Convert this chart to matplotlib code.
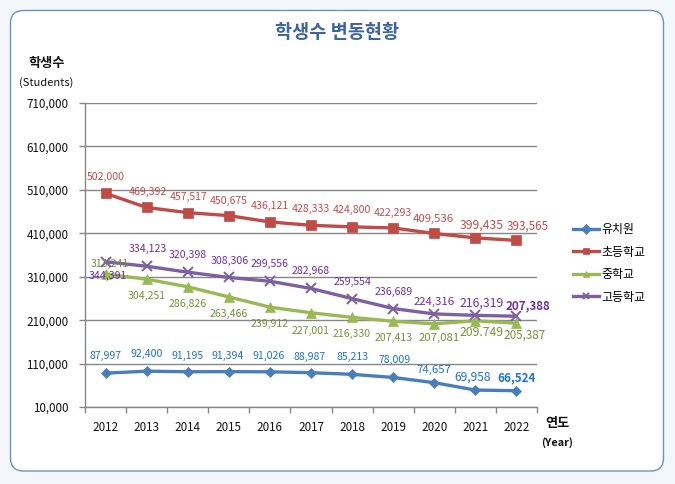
import matplotlib
matplotlib.use('Agg')
import matplotlib.pyplot as plt
from matplotlib.patches import FancyBboxPatch
from matplotlib.transforms import IdentityTransform
from matplotlib.ticker import FixedLocator, FuncFormatter

plt.rcParams['font.family'] = ['Noto Sans CJK KR', 'DejaVu Sans']

# ---------------- data ----------------
years = ['2012', '2013', '2014', '2015', '2016', '2017', '2018', '2019', '2020', '2021', '2022']
series_names = ['유치원', '초등학교', '중학교', '고등학교']

kinder = [87997, 92400, 91195, 91394, 91026, 88987, 85213, 78009, 66000, 49000, 47500]
elem = [502000, 469392, 457517, 450675, 436121, 428333, 424800, 422293, 409536, 399435, 393565]
middle = [316000, 304251, 286826, 263466, 239912, 227001, 216330, 207413, 201500, 208500, 203000]
high = [344391, 334123, 320398, 308306, 299556, 282968, 259554, 236689, 224316, 221000, 219000]

kinder_labels = ['87,997', '92,400', '91,195', '91,394', '91,026', '88,987', '85,213', '78,009', '74,657', '69,958', '66,524']
elem_labels = ['502,000', '469,392', '457,517', '450,675', '436,121', '428,333', '424,800', '422,293', '409,536', '399,435', '393,565']
middle_labels = ['313,241', '304,251', '286,826', '263,466', '239,912', '227,001', '216,330', '207,413', '207,081', '209.749', '205,387']
high_labels = ['344,391', '334,123', '320,398', '308,306', '299,556', '282,968', '259,554', '236,689', '224,316', '216,319', '207,388']

yticks = [10000, 110000, 210000, 310000, 410000, 510000, 610000, 710000]

# ---------------- layout / style ----------------
W, H = 675, 484
fig = plt.figure(figsize=(W / 100, H / 100), dpi=100, facecolor='#F3F7FC')

frame = FancyBboxPatch((10.5, 13), 653, 460.5,
                       boxstyle='round,pad=0,rounding_size=13',
                       transform=IdentityTransform(),
                       facecolor='white', edgecolor='#7391B8', linewidth=1.0, zorder=0)
fig.add_artist(frame)

ax = fig.add_axes([85 / W, (H - 407) / H, 452 / W, 304 / H], zorder=1)
ax.set_facecolor('none')

x = list(range(len(years)))
line_cols = ['#4A7EBB', '#BE4B48', '#98B954', '#7D60A0']
label_cols = ['#1F74C6', '#C0504D', '#76923C', '#7030A0']
markers = ['D', 's', '^', 'x']
msizes = [5.5, 7.5, 7.5, 7.5]
data = [kinder, elem, middle, high]
labels = [kinder_labels, elem_labels, middle_labels, high_labels]

for vals, col, mk, ms, name in zip(data, line_cols, markers, msizes, series_names):
    ax.plot(x, vals, color=col, lw=2.4, marker=mk, markersize=ms,
            markeredgewidth=1.4 if mk == 'x' else 0.5,
            markeredgecolor=col, markerfacecolor=col, label=name,
            solid_joinstyle='round', zorder=3)

# label offsets in pixels (dx, dy up) and font sizes
offs = [
    [(0, 17), (0, 17), (0, 16), (-1, 16), (-1, 16), (-1, 16), (0, 17), (1, 17), (0, 13), (-3, 13), (0, 13)],
    [(0, 16), (1, 16), (1, 16), (0, 15), (0, 16), (0, 16), (0, 17), (0, 15), (-1, 15), (6, 13), (11, 14)],
    [(4, 10), (0, -17), (0, -17), (0, -17), (0, -17), (0, -18), (0, -17), (0, -17), (5, -14), (6, -12), (8, -12)],
    [(2, -14), (1, 17), (0, 17), (1, 16), (0, 17), (0, 17), (0, 17), (0, 17), (0, 12), (6, 12), (12, 10)],
]
sizes = [
    [7.6] * 8 + [8.2, 8.6, 8.4],
    [7.6] * 8 + [8.2, 8.8, 8.4],
    [7.6] * 8 + [8.2, 8.8, 8.4],
    [7.6] * 8 + [8.2, 8.8, 8.4],
]
bolds = [
    [False] * 10 + [True],
    [False] * 11,
    [False] * 11,
    [False] * 10 + [True],
]

for vals, labs, col, of, sz, bd in zip(data, labels, label_cols, offs, sizes, bolds):
    for i, (v, t) in enumerate(zip(vals, labs)):
        ax.annotate(t, (i, v), xytext=of[i], textcoords='offset pixels',
                    ha='center', va='center', color=col, fontsize=sz[i],
                    fontweight='bold' if bd[i] else 'normal', zorder=4)

ax.set_xlim(-0.5, len(years) - 0.5)
ax.set_ylim(10000, 710000)
ax.yaxis.set_major_locator(FixedLocator(yticks))
ax.yaxis.set_major_formatter(FuncFormatter(lambda v, p: f'{int(v):,}'))
ax.set_xticks(x)
ax.set_xticklabels(years)
ax.xaxis.set_minor_locator(FixedLocator([i - 0.5 for i in range(len(years) + 1)]))

grid_col = '#878787'
ax.grid(axis='y', color=grid_col, linewidth=1.0, zorder=1)
ax.set_axisbelow(True)
for s in ['top', 'right']:
    ax.spines[s].set_visible(False)
for s in ['left', 'bottom']:
    ax.spines[s].set_color(grid_col)
    ax.spines[s].set_linewidth(1.0)

ax.tick_params(axis='y', which='major', length=4, width=1, color=grid_col,
               labelsize=8.4, pad=8, labelcolor='#111111')
ax.tick_params(axis='x', which='major', length=0, labelsize=8.4, pad=10, labelcolor='#111111')
ax.tick_params(axis='x', which='minor', length=4, width=1, color=grid_col)

# texts
def ft(px, py, s, **kw):
    fig.text(px / W, 1 - py / H, s, ha='center', va='center', **kw)

ft(337, 33, '학생수 변동현황', fontsize=13.4, fontweight='bold', color='#3B64A0')
ft(47, 63, '학생수', fontsize=9.5, fontweight='bold', color='#111111')
ft(46, 83, '(Students)', fontsize=8.0, color='#111111')
ft(557, 423, '연도', fontsize=9.5, fontweight='bold', color='#111111')
ft(557, 443, '(Year)', fontsize=7.8, fontweight='bold', color='#111111')

leg = ax.legend(loc='upper left', bbox_to_anchor=(573 / W, 1 - 223 / H),
                bbox_transform=fig.transFigure, frameon=False, fontsize=8.6,
                handlelength=2.2, handletextpad=0.15, labelspacing=0.8,
                borderaxespad=0, borderpad=0)
for h in leg.legend_handles:
    h.set_markersize(5)

fig.savefig('out.png', dpi=100, facecolor=fig.get_facecolor())
